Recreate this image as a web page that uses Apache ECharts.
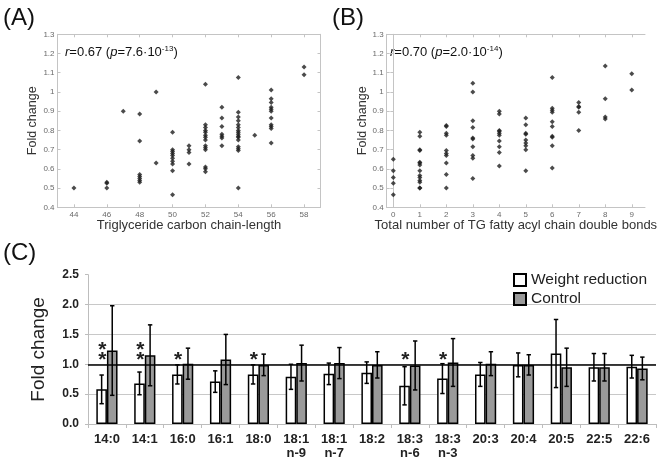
<!DOCTYPE html>
<html>
<head>
<meta charset="utf-8">
<script src="https://cdn.jsdelivr.net/npm/echarts@6/dist/echarts.min.js"></script>
<style>html,body{margin:0;padding:0;background:#fff}#c{width:661px;height:463px}</style>
</head>
<body>
<div id="c"></div>
<script>
// ---- Panel A: fold change vs TG carbon chain length ----
const chainLength = [44, 46, 47, 48, 49, 50, 51, 52, 53, 54, 55, 56, 58];
const foldA = [
  [0.50],
  [0.53, 0.525, 0.50],
  [0.90],
  [0.885, 0.745, 0.57, 0.56, 0.55, 0.54, 0.53],
  [1.00, 0.63],
  [0.79, 0.70, 0.69, 0.68, 0.67, 0.655, 0.64, 0.625, 0.59, 0.465],
  [0.72, 0.70, 0.685, 0.625],
  [1.04, 0.83, 0.815, 0.80, 0.79, 0.775, 0.765, 0.75, 0.72, 0.71, 0.70, 0.61, 0.60, 0.585],
  [0.92, 0.865, 0.82, 0.78, 0.77, 0.76, 0.72],
  [1.075, 0.895, 0.87, 0.85, 0.83, 0.815, 0.80, 0.79, 0.78, 0.77, 0.765, 0.75, 0.715, 0.705, 0.695, 0.50],
  [0.775],
  [1.01, 0.965, 0.945, 0.92, 0.91, 0.90, 0.865, 0.83, 0.82, 0.81, 0.735],
  [1.13, 1.09]
];
const ticksA = [44, 46, 48, 50, 52, 54, 56, 58];

// ---- Panel B: fold change vs number of double bonds ----
const doubleBonds = [0, 1, 2, 3, 4, 5, 6, 7, 8, 9];
const foldB = [
  [0.65, 0.59, 0.555, 0.525, 0.465],
  [0.79, 0.77, 0.70, 0.695, 0.635, 0.63, 0.62, 0.59, 0.565, 0.555, 0.54, 0.53, 0.50, 0.50],
  [0.825, 0.82, 0.785, 0.775, 0.695, 0.68, 0.67, 0.63, 0.57, 0.50],
  [1.045, 1.00, 0.85, 0.815, 0.76, 0.755, 0.715, 0.67, 0.655, 0.55],
  [0.90, 0.885, 0.80, 0.795, 0.785, 0.775, 0.745, 0.715, 0.685, 0.615],
  [0.865, 0.83, 0.785, 0.78, 0.75, 0.735, 0.72, 0.70, 0.59],
  [1.075, 0.915, 0.905, 0.895, 0.845, 0.82, 0.77, 0.765, 0.72, 0.605],
  [0.945, 0.925, 0.92, 0.895, 0.80],
  [1.135, 0.965, 0.87, 0.86],
  [1.095, 1.01]
];
const ticksB = [0, 1, 2, 3, 4, 5, 6, 7, 8, 9];

// ---- Panel C: fatty acids, fold change (mean, SD) ----
const fattyAcids = ['14:0', '14:1', '16:0', '16:1', '18:0', '18:1\nn-9', '18:1\nn-7', '18:2',
  '18:3\nn-6', '18:3\nn-3', '20:3', '20:4', '20:5', '22:5', '22:6'];
const wrMean = [0.58, 0.68, 0.83, 0.71, 0.83, 0.79, 0.84, 0.86, 0.64, 0.76, 0.83, 0.99, 1.18, 0.95, 0.96];
const wrSD   = [0.24, 0.19, 0.16, 0.18, 0.16, 0.21, 0.18, 0.18, 0.32, 0.25, 0.20, 0.20, 0.57, 0.23, 0.19];
const ctMean = [1.23, 1.15, 1.01, 1.08, 0.99, 1.02, 1.02, 0.99, 0.98, 1.03, 1.01, 0.99, 0.95, 0.95, 0.93];
const ctSD   = [0.75, 0.51, 0.26, 0.42, 0.18, 0.30, 0.26, 0.22, 0.41, 0.40, 0.20, 0.17, 0.32, 0.23, 0.19];
const starCount = [2, 2, 1, 0, 1, 0, 0, 0, 1, 1, 0, 0, 0, 0, 0];
const yTicksC = [0, 0.5, 1.0, 1.5, 2.0, 2.5];

const FONT = 'Liberation Sans, Arial, Helvetica, sans-serif';

const scatterA = [];
chainLength.forEach((x, i) => foldA[i].forEach(v => scatterA.push([x, v])));
const scatterB = [];
doubleBonds.forEach((x, i) => foldB[i].forEach(v => scatterB.push([x, v])));

const errData = [];
fattyAcids.forEach((c, i) => {
  errData.push([i, wrMean[i], wrSD[i], -1]);
  errData.push([i, ctMean[i], ctSD[i], 1]);
});
const starData = [];
starCount.forEach((n, i) => { for (let k = 0; k < n; k++) starData.push([i, 1.15 + 0.17 * k]); });

const BAR_FRAC = 0.28;

function frameAxes(gridIndex, min, max, ticks, isX, pos) {
  const ax = {
    type: 'value', gridIndex, min, max, position: pos,
    axisLine: { show: true, lineStyle: { color: '#c4c4c4', width: 1 } },
    axisTick: { show: true, inside: true, length: 3, lineStyle: { color: '#c4c4c4' } },
    axisLabel: { show: false },
    splitLine: { show: false }
  };
  if (ticks) { ax.axisTick.customValues = ticks; ax.axisLabel.customValues = ticks; }
  else { ax.interval = 0.1; }
  return ax;
}

function scatterXAxis(gridIndex, min, max, ticks, name) {
  return {
    type: 'value', gridIndex, min, max, position: 'bottom',
    axisLine: { show: true, onZero: false, lineStyle: { color: '#c4c4c4' } },
    axisTick: { show: true, inside: true, length: 3, customValues: ticks, lineStyle: { color: '#c4c4c4' } },
    axisLabel: { customValues: ticks, fontSize: 8, color: '#6a6a6a', margin: 3, fontFamily: FONT },
    splitLine: { show: false },
    name, nameLocation: 'middle', nameGap: 10,
    nameTextStyle: { fontSize: 13, color: '#333', fontFamily: FONT }
  };
}
function scatterYAxis(gridIndex) {
  return {
    type: 'value', gridIndex, min: 0.4, max: 1.3, interval: 0.1, position: 'left',
    axisLine: { show: true, onZero: false, lineStyle: { color: '#c4c4c4' } },
    axisTick: { show: true, inside: true, length: 3, lineStyle: { color: '#c4c4c4' } },
    axisLabel: { fontSize: 8, color: '#6a6a6a', margin: 3, fontFamily: FONT,
      formatter: v => String(Math.round(v * 10) / 10) },
    splitLine: { show: false },
    name: 'Fold change', nameLocation: 'middle', nameGap: 16,
    nameTextStyle: { fontSize: 12.5, color: '#333', fontFamily: FONT }
  };
}

const chart = echarts.init(document.getElementById('c'), null, { renderer: 'canvas' });
const option = {
  animation: false,
  backgroundColor: '#fff',
  textStyle: { fontFamily: FONT },
  grid: [
    { left: 57.5, right: 340.5, top: 34.3, bottom: 255.7 },
    { left: 386.7, right: 16, top: 34.3, bottom: 255.7 },
    { left: 88, right: 5, top: 274.7, bottom: 39 }
  ],
  xAxis: [
    scatterXAxis(0, 43, 59, ticksA, 'Triglyceride carbon chain-length'),
    Object.assign(frameAxes(0, 43, 59, ticksA, true, 'top'), {}),
    scatterXAxis(1, -0.25, 9.5, ticksB, 'Total number of TG fatty acyl chain double bonds'),
    Object.assign(frameAxes(1, -0.25, 9.5, ticksB, true, 'top'), {}),
    {
      type: 'category', gridIndex: 2, data: fattyAcids, boundaryGap: true,
      axisLine: { show: true, lineStyle: { color: '#bdbdbd' } },
      axisTick: { show: true, length: 4, interval: 0, lineStyle: { color: '#bdbdbd' } },
      axisLabel: { interval: 0, fontSize: 13, fontWeight: 'bold', color: '#222', margin: 8,
        lineHeight: 14, fontFamily: FONT }
    }
  ],
  yAxis: [
    scatterYAxis(0),
    frameAxes(0, 0.4, 1.3, null, false, 'right'),
    scatterYAxis(1),
    frameAxes(1, 0.4, 1.3, null, false, 'right'),
    {
      type: 'value', gridIndex: 2, min: 0, max: 2.5, interval: 0.5,
      axisLine: { show: true, lineStyle: { color: '#bdbdbd' } },
      axisTick: { show: true, length: 3, lineStyle: { color: '#bdbdbd' } },
      axisLabel: { fontSize: 12, fontWeight: 'bold', color: '#222', margin: 9, fontFamily: FONT,
        formatter: v => v.toFixed(1) },
      splitLine: { show: true, showMinLine: false, showMaxLine: false, lineStyle: { color: '#c8c8c8', width: 1 } },
      name: 'Fold change', nameLocation: 'middle', nameGap: 40,
      nameTextStyle: { fontSize: 19, color: '#222', fontFamily: FONT }
    }
  ],
  legend: {
    data: ['Weight reduction', 'Control'], orient: 'vertical', left: 513, top: 272,
    padding: 0, itemWidth: 12, itemHeight: 12, itemGap: 3, icon: 'rect',
    textStyle: { fontSize: 15.5, color: '#222', fontFamily: FONT }
  },
  graphic: [
    { type: 'text', left: 3, top: 6, style: { text: '(A)', font: '24px ' + FONT, fill: '#111' } },
    { type: 'text', left: 332, top: 6, style: { text: '(B)', font: '24px ' + FONT, fill: '#111' } },
    { type: 'text', left: 3, top: 241, style: { text: '(C)', font: '24px ' + FONT, fill: '#111' } },
    { type: 'text', left: 65, top: 45, style: {
        text: '{i|r}=0.67 ({i|p}=7.6·10{s|-13})', font: '13px ' + FONT, fill: '#111',
        rich: { i: { fontStyle: 'italic', fontSize: 13, fontFamily: FONT, fill: '#111' },
                s: { fontSize: 8, fontFamily: FONT, fill: '#111', verticalAlign: 'top', padding: [0, 0, 6, 0] } } } },
    { type: 'text', left: 390, top: 45, style: {
        text: '{i|r}=0.70 ({i|p}=2.0·10{s|-14})', font: '13px ' + FONT, fill: '#111',
        rich: { i: { fontStyle: 'italic', fontSize: 13, fontFamily: FONT, fill: '#111' },
                s: { fontSize: 8, fontFamily: FONT, fill: '#111', verticalAlign: 'top', padding: [0, 0, 6, 0] } } } }
  ],
  series: [
    { type: 'scatter', xAxisIndex: 0, yAxisIndex: 0, data: scatterA, symbol: 'diamond', symbolSize: 5,
      itemStyle: { color: '#1e1e1e' } },
    { type: 'scatter', xAxisIndex: 2, yAxisIndex: 2, data: scatterB, symbol: 'diamond', symbolSize: 5,
      itemStyle: { color: '#1e1e1e' } },
    { type: 'line', xAxisIndex: 4, yAxisIndex: 4, data: [], z: 1, silent: true,
      markLine: { silent: true, symbol: 'none', label: { show: false },
        lineStyle: { color: '#000', width: 1.6, type: 'solid' }, data: [{ yAxis: 1 }] } },
    { name: 'Weight reduction', type: 'bar', xAxisIndex: 4, yAxisIndex: 4, data: wrMean, z: 2,
      barWidth: (BAR_FRAC * 100) + '%', barGap: '0%',
      itemStyle: { color: '#ffffff', borderColor: '#000', borderWidth: 1.5 } },
    { name: 'Control', type: 'bar', xAxisIndex: 4, yAxisIndex: 4, data: ctMean, z: 2,
      barWidth: (BAR_FRAC * 100) + '%', barGap: '0%',
      itemStyle: { color: '#9a9a9a', borderColor: '#000', borderWidth: 1.5 } },
    { type: 'custom', xAxisIndex: 4, yAxisIndex: 4, data: errData, z: 3, silent: true,
      renderItem: (params, api) => {
        const i = api.value(0), m = api.value(1), e = api.value(2), side = api.value(3);
        const band = api.size([1, 0])[0];
        const p = api.coord([i, m]);
        const cx = p[0] + side * band * BAR_FRAC / 2;
        const yt = api.coord([i, m + e])[1];
        const yb = api.coord([i, m - e])[1];
        const st = { stroke: '#000', lineWidth: 1.5 };
        return { type: 'group', children: [
          { type: 'line', shape: { x1: cx, y1: yt, x2: cx, y2: yb }, style: st },
          { type: 'line', shape: { x1: cx - 2.2, y1: yt, x2: cx + 2.2, y2: yt }, style: st },
          { type: 'line', shape: { x1: cx - 2.2, y1: yb, x2: cx + 2.2, y2: yb }, style: st }
        ] };
      } },
    { type: 'custom', xAxisIndex: 4, yAxisIndex: 4, data: starData, z: 4, silent: true,
      renderItem: (params, api) => {
        const i = api.value(0), y = api.value(1);
        const band = api.size([1, 0])[0];
        const p = api.coord([i, y]);
        return { type: 'text', x: p[0] - band * 0.12, y: p[1] + 5,
          style: { text: '*', font: 'bold 21px ' + FONT, fill: '#222', align: 'center', verticalAlign: 'middle' } };
      } }
  ]
};
chart.setOption(option);
</script>
</body>
</html>
